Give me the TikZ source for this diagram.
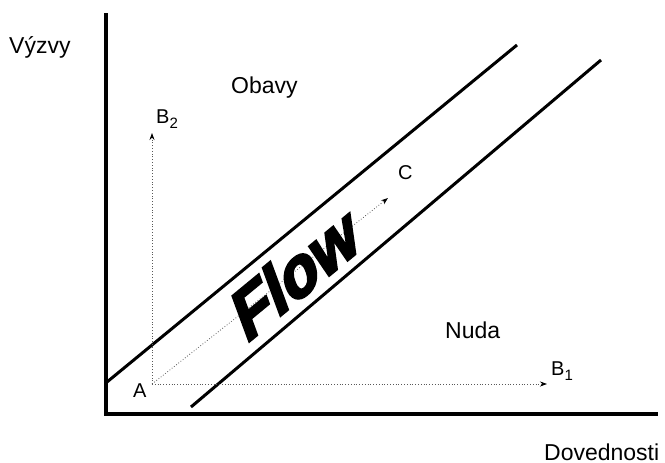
\documentclass[tikz,border=0pt]{standalone}
\usepackage{fontspec}
\setmainfont{Liberation Sans}
\newfontfamily\flowfont[FakeSlant=0.35,FakeBold=4]{Liberation Sans Bold}
\usetikzlibrary{arrows.meta}
\newcommand{\subidx}[1]{\raisebox{-5pt}{\fontsize{15}{18}\selectfont #1}}
\begin{document}
\begin{tikzpicture}[x=1pt,y=-1pt,
  axisline/.style={line width=4pt,line cap=rect},
  diagline/.style={line width=3pt},
  dotarrow/.style={gray!70!black,line width=0.8pt,dotted,-{Stealth[length=7pt,width=5pt,black]}},
  lbl/.style={font=\fontsize{23}{26}\selectfont,anchor=base west,inner sep=0pt},
  sml/.style={font=\fontsize{20}{24}\selectfont,anchor=base west,inner sep=0pt}]
\useasboundingbox (0,0) rectangle (665,463);
% axes
\coordinate (ytop) at (106,15);
\coordinate (orig) at (106,414);
\coordinate (xend) at (656,414);
\draw[axisline] (ytop) -- (orig) -- (xend);
% diagonals
\coordinate (u1) at (107,382);
\coordinate (u2) at (517,45);
\coordinate (l1) at (191,407);
\coordinate (l2) at (601,60);
\draw[diagline] (u1) -- (u2);
\draw[diagline] (l1) -- (l2);
% vectors
\coordinate (A) at (152,384);
\coordinate (B2) at (152,133);
\coordinate (B1) at (547,384);
\coordinate (C) at (388,198);
\draw[dotarrow] (A) -- (B2);
\draw[dotarrow] (A) -- (B1);
\draw[dotarrow] (A) -- (C);
% labels
\node[lbl] (vyzvy) at (9,53) {Výzvy};
\node[lbl] (obavy) at (231,93) {Obavy};
\node[lbl] (nuda) at (445,338) {Nuda};
\node[lbl] (dov) at (544,460) {Dovednosti};
\node[sml] (lA) at (133,397) {A};
\node[sml] (lC) at (398,179) {C};
\node[sml] (lB2) at (156,123) {B\subidx{2}};
\node[sml] (lB1) at (551,375) {B\subidx{1}};
\node[rotate=39.5,font=\fontsize{66}{70}\flowfont,inner sep=0pt] (flow) at (289,278) {Flow};
\end{tikzpicture}
\end{document}
